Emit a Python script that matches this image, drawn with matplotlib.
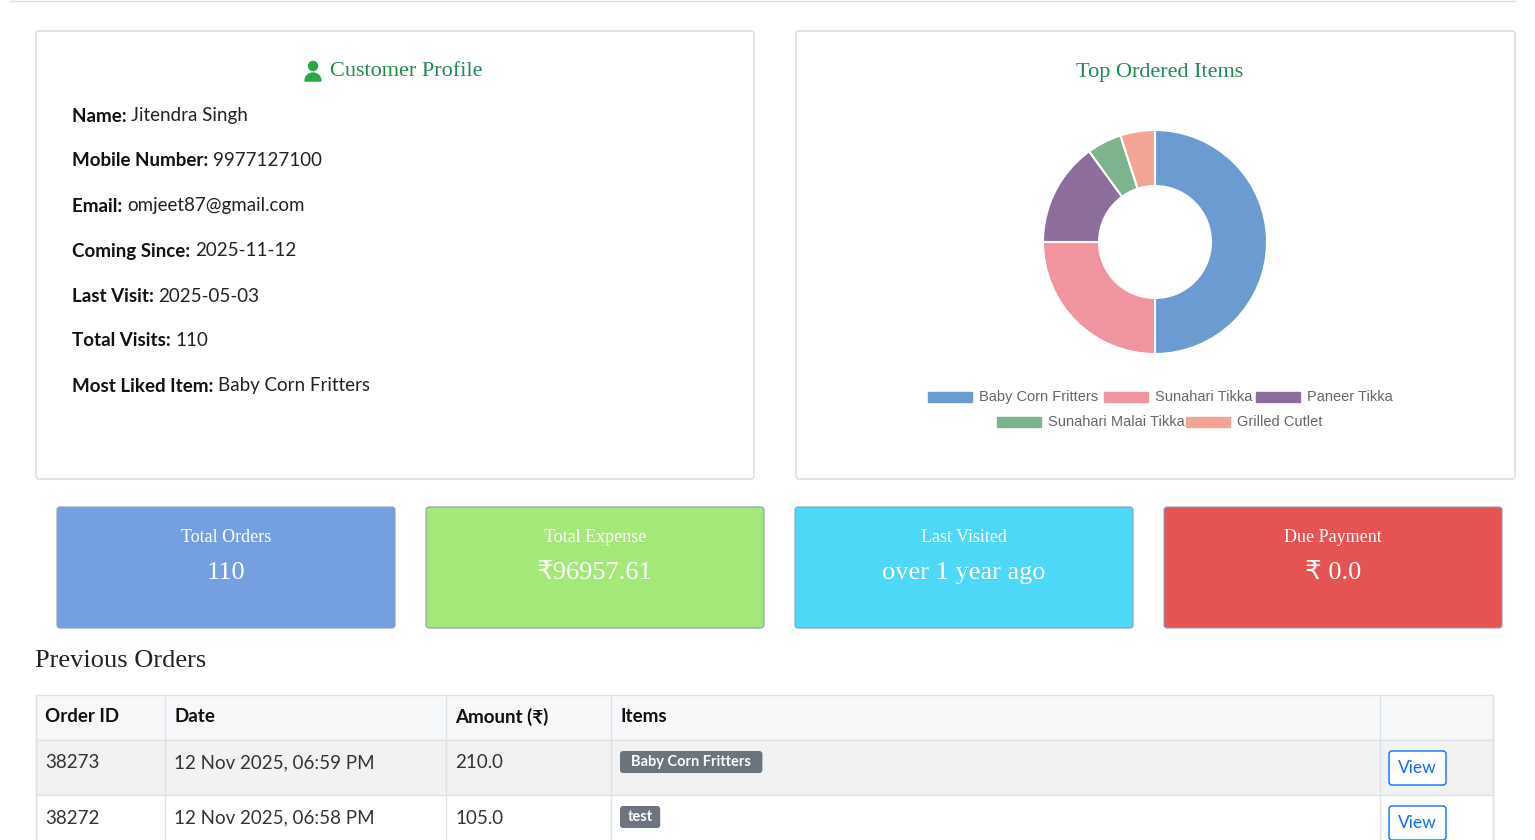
import matplotlib
matplotlib.use("Agg")
import matplotlib.pyplot as plt
from matplotlib.patches import Rectangle, FancyBboxPatch, Circle, Wedge

# data
items = ["Baby Corn Fritters", "Sunahari Tikka", "Paneer Tikka", "Sunahari Malai Tikka", "Grilled Cutlet"]
counts = [10, 5, 3, 1, 1]
colors = ["#6b9bd1", "#f0959f", "#8c6d9b", "#7db38d", "#f2a595"]
profile = [("Name:", "Jitendra Singh"), ("Mobile Number:", "9977127100"),
           ("Email:", "omjeet87@gmail.com"), ("Coming Since:", "2025-11-12"),
           ("Last Visit:", "2025-05-03"), ("Total Visits:", "110"),
           ("Most Liked Item:", "Baby Corn Fritters")]
stat_titles = ["Total Orders", "Total Expense", "Last Visited", "Due Payment"]
stat_values = ["110", "₹96957.61", "over 1 year ago", "₹ 0.0"]
stat_colors = ["#74a0e2", "#a5e87a", "#4dd8f8", "#e55353"]
headers = ["Order ID", "Date", "Amount (₹)", "Items", ""]
orders = [("38273", "12 Nov 2025, 06:59 PM", "210.0", "Baby Corn Fritters"),
          ("38272", "12 Nov 2025, 06:58 PM", "105.0", "test")]

W, H = 1535, 840
fig = plt.figure(figsize=(W / 100, H / 100), dpi=100)
ax = fig.add_axes([0, 0, 1, 1])
ax.set_xlim(0, W)
ax.set_ylim(H, 0)
ax.axis("off")

SERIF = "Liberation Serif"
SANS = "Lato"
GREEN = "#1e8c4e"

ax.plot([10, 1515], [1, 1], color="#dddddd", lw=1)

# cards
for x0, x1 in [(36, 754), (796, 1515)]:
    ax.add_patch(FancyBboxPatch((x0, 31), x1 - x0, 448, boxstyle="round,pad=0,rounding_size=3",
                                fc="white", ec="#d9d9d9", lw=1))

# profile
ax.add_patch(Circle((313, 66), 4.5, color="#28a745"))
ax.add_patch(Wedge((313, 81), 8, 180, 360, color="#28a745"))
ax.text(330, 72, "Customer Profile", family=SERIF, fontsize=16, color=GREEN, va="center")
for i, (k, v) in enumerate(profile):
    y = 116 + 45 * i
    t = ax.text(72, y, k + " ", family=SANS, fontsize=13.5, weight="bold", va="center", color="#111")
    ax.annotate(v, xycoords=t, xy=(1, 0.5), va="center", family=SANS, fontsize=13.5, color="#222")

# donut
ax.text(1160, 72, "Top Ordered Items", family=SERIF, fontsize=16, color=GREEN, ha="center", va="center")
pax = fig.add_axes([(1155 - 140) / W, 1 - (242 + 140) / H, 280 / W, 280 / H])
pax.pie(counts, colors=colors, startangle=90, counterclock=False,
        wedgeprops=dict(width=0.5, edgecolor="white", linewidth=1.5))
pax.set_aspect("equal")

legend_rows = [(928, [0, 1, 2], 397), (997, [3, 4], 422)]
for x, idxs, y in legend_rows:
    for i in idxs:
        ax.add_patch(Rectangle((x, y - 5), 44, 10, color=colors[i]))
        t = ax.text(x + 51, y, items[i], family="Liberation Sans", fontsize=10.5, color="#666", va="center")
        fig.canvas.draw() if False else None
        x += 51 + len(items[i]) * 6.3 + 12

# stat boxes
for i in range(4):
    x0 = 57 + 369 * i
    ax.add_patch(FancyBboxPatch((x0, 507), 338, 121, boxstyle="round,pad=0,rounding_size=3",
                                fc=stat_colors[i], ec="#8aa0b0", lw=0.8))
    ax.text(x0 + 169, 537, stat_titles[i], family=SERIF, fontsize=13, color="white", ha="center", va="center")
    ax.text(x0 + 169, 573, stat_values[i], family=[SERIF, "DejaVu Sans"], fontsize=19, color="white",
            ha="center", va="center")

ax.text(35, 661, "Previous Orders", family=SERIF, fontsize=19, color="#222", va="center")

# table
cols = [36, 165, 446, 611, 1380, 1493]
rows = [695, 740, 795, 850]
bgs = ["#f7f8fa", "#f2f2f2", "white"]
for r in range(3):
    ax.add_patch(Rectangle((cols[0], rows[r]), cols[-1] - cols[0], rows[r + 1] - rows[r],
                           fc=bgs[r], ec="#dee2e6", lw=1))
for c in cols:
    ax.plot([c, c], [rows[0], H], color="#dee2e6", lw=1)
for j, h in enumerate(headers):
    ax.text(cols[j] + 9, 717, h, family=[SANS, "DejaVu Sans"], fontsize=13.5, weight="bold", va="center", color="#111")
for r, (oid, d, amt, it) in enumerate(orders):
    yc = rows[r + 1] + 23
    for j, v in enumerate([oid, d, amt]):
        ax.text(cols[j] + 9, yc, v, family=SANS, fontsize=13.5, va="center", color="#333")
    bw = 11 + len(it) * 7.3
    ax.add_patch(FancyBboxPatch((620, yc - 12), bw, 22, boxstyle="round,pad=0,rounding_size=3",
                                fc="#6c757d", ec="none"))
    ax.text(620 + bw / 2, yc - 1, it, family=SANS, fontsize=10.5, weight="bold", color="white",
            ha="center", va="center")
    ax.add_patch(FancyBboxPatch((1389, yc - 12), 57, 34, boxstyle="round,pad=0,rounding_size=3",
                                fc="white", ec="#0d6efd", lw=1))
    ax.text(1417, yc + 5, "View", family=SANS, fontsize=12.5, color="#0d6efd", ha="center", va="center")

fig.savefig("out.png", dpi=100)
